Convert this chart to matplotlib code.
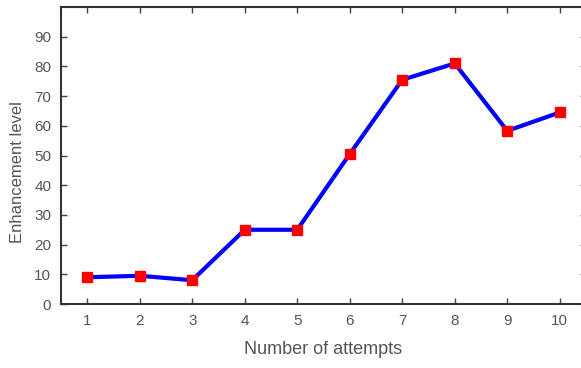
import matplotlib
matplotlib.use("Agg")
import matplotlib.pyplot as plt

# data
attempts = [1, 2, 3, 4, 5, 6, 7, 8, 9, 10]
enhancement = [9, 9.5, 8, 25, 25, 50.5, 75.5, 81, 58.3, 64.5]
y_ticks = [0, 10, 20, 30, 40, 50, 60, 70, 80, 90]

plt.rcParams['font.family'] = ['Liberation Sans', 'DejaVu Sans']

fig = plt.figure(figsize=(5.81, 3.68), dpi=100)
# axes runs a little past the right edge like the original
ax = fig.add_axes([61 / 581, 1 - 304 / 368, 525 / 581, 297 / 368])

ax.plot(attempts, enhancement, color='#0000ff', linewidth=3,
        marker='s', markersize=7, markerfacecolor='#ff0000', markeredgecolor='#ff0000')

ax.set_xlim(0.5, 10.5)
ax.set_ylim(0, 100)
ax.set_xticks(attempts)
ax.set_yticks(y_ticks)

text_color = '#555555'
ax.tick_params(direction='in', length=4, width=1, color='#444444',
               top=True, right=True, labelsize=11, labelcolor=text_color, pad=7)
for s in ax.spines.values():
    s.set_color('#333333')
    s.set_linewidth(1.5)

ax.set_xlabel('Number of attempts', fontsize=13, color=text_color)
ax.xaxis.set_label_coords(0.5, -0.125)
ax.set_ylabel('Enhancement level', fontsize=12, color=text_color)
ax.yaxis.set_label_coords(-0.069, 0.445)

fig.savefig('out.png', dpi=100)
